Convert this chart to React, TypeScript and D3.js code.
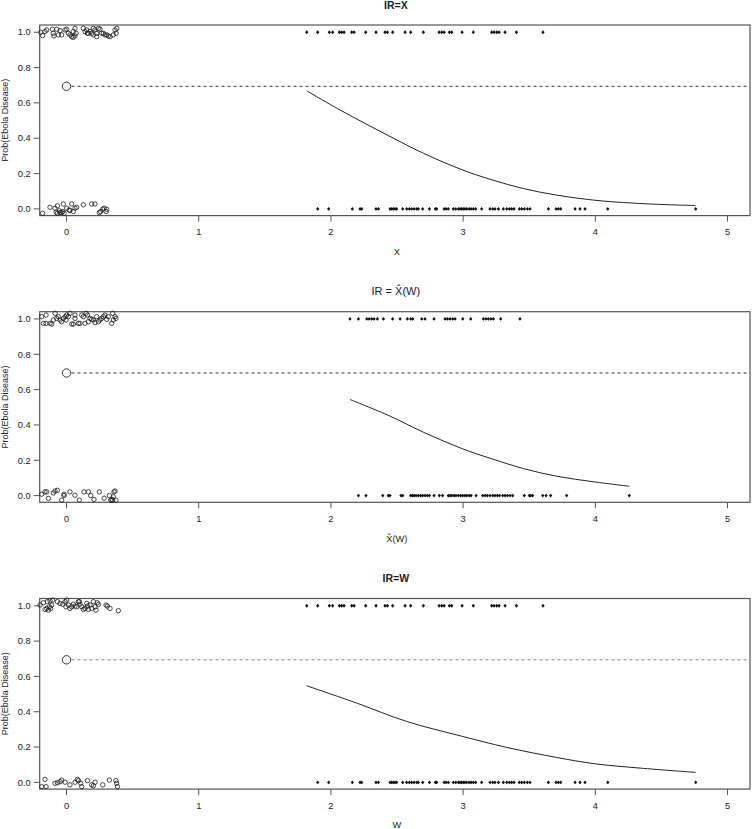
import React from "react";
import * as d3 from "d3";

// ---------- data ----------
const X_TICKS = [0, 1, 2, 3, 4, 5];
const Y_TICKS = [0, 0.2, 0.4, 0.6, 0.8, 1.0];
const Y_TICK_LABELS = ["0.0", "0.2", "0.4", "0.6", "0.8", "1.0"];
const REF_POINT: [number, number] = [0, 0.694];

// diamonds for IR=X and IR=W (same observed values)
const obsTop = [1.817, 1.9, 1.988, 2.013, 2.064, 2.081, 2.099, 2.157, 2.175, 2.263, 2.341, 2.409, 2.427, 2.467, 2.561, 2.603, 2.699, 2.818, 2.838, 2.856, 2.896, 2.914, 2.992, 3.077, 3.216, 3.234, 3.254, 3.272, 3.317, 3.403, 3.604];
const obsBottom = [1.9, 1.983, 2.162, 2.22, 2.233, 2.341, 2.359, 2.447, 2.46, 2.472, 2.485, 2.497, 2.543, 2.573, 2.593, 2.611, 2.629, 2.649, 2.661, 2.694, 2.745, 2.79, 2.8, 2.856, 2.871, 2.888, 2.926, 2.944, 2.964, 2.977, 2.989, 3.002, 3.014, 3.027, 3.045, 3.06, 3.077, 3.095, 3.14, 3.203, 3.224, 3.241, 3.267, 3.304, 3.33, 3.35, 3.367, 3.385, 3.425, 3.443, 3.463, 3.486, 3.506, 3.645, 3.703, 3.72, 3.738, 3.847, 3.884, 3.922, 4.094, 4.759];

// diamonds for IR = X^(W)
const hatTop = [2.144, 2.208, 2.271, 2.288, 2.308, 2.326, 2.351, 2.397, 2.467, 2.523, 2.578, 2.603, 2.619, 2.687, 2.712, 2.78, 2.863, 2.881, 2.901, 2.921, 2.939, 2.997, 3.057, 3.153, 3.173, 3.191, 3.211, 3.229, 3.284, 3.43];
const hatBottom = [2.208, 2.265, 2.392, 2.434, 2.447, 2.53, 2.543, 2.603, 2.616, 2.629, 2.644, 2.661, 2.679, 2.694, 2.712, 2.729, 2.745, 2.78, 2.82, 2.845, 2.888, 2.901, 2.914, 2.931, 2.946, 2.964, 2.982, 2.997, 3.014, 3.027, 3.045, 3.06, 3.098, 3.148, 3.166, 3.183, 3.203, 3.224, 3.241, 3.259, 3.274, 3.299, 3.317, 3.335, 3.355, 3.375, 3.463, 3.501, 3.511, 3.526, 3.602, 3.627, 3.662, 3.783, 4.257];

// jittered open circles near 0
const circlesX: [number, number][] = [
  [-0.195, 1.0], [-0.181, 0.981], [-0.163, 1.004], [-0.15, 1.013], [-0.107, 1.017], [-0.1, 0.994], [-0.095, 0.979], [-0.074, 1.017], [-0.062, 0.985], [-0.049, 1.009], [-0.037, 0.985], [-0.011, 1.013], [0.001, 1.017], [0.014, 0.994], [0.026, 0.985], [0.039, 0.975], [0.051, 0.971], [0.064, 0.979], [0.072, 0.994], [0.064, 1.022], [0.127, 1.022], [0.14, 1.004], [0.152, 1.013], [0.158, 0.994], [0.178, 1.004], [0.203, 1.022], [0.215, 1.013], [0.228, 0.994], [0.241, 1.022], [0.253, 1.017], [0.266, 0.994], [0.278, 0.994], [0.291, 0.985], [0.304, 0.985], [0.316, 0.979], [0.329, 0.975], [0.354, 0.985], [0.367, 1.013], [0.38, 1.022], [0.375, 0.994], [0.19, 0.994], [0.165, 0.994], [0.203, 0.985], [0.228, 0.975], [0.051, 1.004],
  [-0.181, -0.025], [-0.125, 0.009], [-0.087, 0.004], [-0.079, -0.019], [-0.069, -0.025], [-0.054, -0.011], [-0.037, -0.021], [-0.024, 0.028], [-0.019, -0.025], [0.001, 0.004], [0.019, -0.006], [0.026, -0.009], [0.039, 0.028], [0.051, -0.015], [0.064, 0.004], [0.077, 0.009], [0.127, 0.023], [0.19, 0.028], [0.215, 0.028], [0.248, -0.021], [0.258, -0.015], [0.274, -0.002], [0.284, 0.004], [0.299, -0.015], [0.304, -0.002], [-0.069, 0.017], [-0.049, -0.021], [-0.029, -0.015],
];
const circlesHat: [number, number][] = [
  [-0.188, 1.013], [-0.175, 0.975], [-0.155, 0.975], [-0.155, 1.022], [-0.125, 0.975], [-0.112, 0.971], [-0.1, 0.994], [-0.087, 1.032], [-0.074, 1.003], [-0.062, 1.013], [-0.049, 0.994], [-0.037, 0.984], [-0.024, 1.003], [-0.011, 1.013], [-0.004, 0.994], [0.001, 1.022], [0.014, 1.013], [0.026, 1.032], [0.039, 0.971], [0.052, 0.971], [0.064, 1.003], [0.064, 1.022], [0.09, 0.975], [0.102, 0.975], [0.115, 1.022], [0.127, 1.013], [0.14, 0.975], [0.148, 1.032], [0.158, 1.022], [0.165, 0.984], [0.178, 1.003], [0.19, 0.998], [0.203, 0.994], [0.216, 0.979], [0.228, 1.013], [0.241, 0.984], [0.253, 0.994], [0.266, 1.003], [0.279, 1.013], [0.291, 1.022], [0.304, 0.998], [0.316, 1.013], [0.342, 0.975], [0.349, 1.032], [0.354, 0.994], [0.367, 1.013], [0.374, 1.003],
  [-0.188, 0.008], [-0.163, 0.021], [-0.15, 0.021], [-0.137, -0.016], [-0.1, 0.015], [-0.087, 0.026], [-0.069, 0.03], [-0.037, -0.026], [-0.019, 0.008], [-0.019, 0.0], [0.026, 0.021], [0.064, 0.002], [0.097, -0.026], [0.132, 0.021], [0.165, 0.021], [0.183, 0.0], [0.208, -0.022], [0.248, 0.021], [0.284, -0.015], [0.324, 0.0], [0.334, -0.026], [0.342, -0.022], [0.349, -0.026], [0.359, 0.021], [0.367, 0.026], [0.374, -0.026], [0.354, -0.007],
];
const circlesW: [number, number][] = [
  [-0.2, 1.004], [-0.175, 1.017], [-0.163, 0.979], [-0.15, 0.985], [-0.145, 1.023], [-0.137, 0.975], [-0.13, 0.994], [-0.125, 1.028], [-0.12, 0.985], [-0.112, 1.004], [-0.105, 1.032], [-0.069, 1.023], [-0.049, 1.013], [-0.029, 1.009], [-0.011, 1.023], [-0.004, 0.994], [0.001, 1.032], [0.014, 1.004], [0.026, 0.985], [0.039, 0.994], [0.052, 1.009], [0.064, 0.998], [0.077, 0.994], [0.09, 1.023], [0.097, 1.023], [0.102, 1.009], [0.115, 0.994], [0.127, 0.979], [0.14, 0.985], [0.153, 1.013], [0.158, 0.998], [0.165, 0.979], [0.178, 1.004], [0.19, 0.985], [0.203, 1.023], [0.216, 0.994], [0.223, 0.975], [0.233, 1.017], [0.241, 1.007], [0.299, 1.004], [0.309, 0.998], [0.329, 0.985], [0.392, 0.972],
  [-0.188, -0.024], [-0.163, 0.017], [-0.155, -0.024], [-0.087, -0.005], [-0.069, -0.002], [-0.049, 0.004], [-0.037, 0.013], [-0.011, 0.001], [0.026, -0.014], [0.064, 0.001], [0.082, 0.017], [0.09, 0.01], [0.107, -0.005], [0.115, -0.024], [0.158, 0.01], [0.19, -0.014], [0.203, -0.019], [0.216, 0.001], [0.274, -0.014], [0.324, 0.013], [0.374, 0.01], [0.379, -0.005], [0.385, -0.024],
];

// fitted curves
const curveX: [number, number][] = [[1.817, 0.668], [2.069, 0.56], [2.447, 0.41], [2.699, 0.315], [2.997, 0.22], [3.203, 0.168], [3.456, 0.115], [3.708, 0.078], [3.995, 0.049], [4.212, 0.036], [4.464, 0.026], [4.759, 0.019]];
const curveHat: [number, number][] = [[2.144, 0.544], [2.447, 0.45], [2.699, 0.359], [2.997, 0.2645], [3.203, 0.2116], [3.456, 0.153], [3.708, 0.1095], [3.995, 0.0773], [4.257, 0.0528]];
const curveW: [number, number][] = [[1.817, 0.547], [2.195, 0.449], [2.573, 0.345], [2.997, 0.26], [3.33, 0.198], [3.708, 0.141], [3.995, 0.1055], [4.338, 0.081], [4.759, 0.0565]];

const PANELS = [
  { title: "IR=X", bold: true, xlab: "X", circles: circlesX, top: obsTop, bottom: obsBottom, curve: curveX, dash: "#333" },
  { title: "IR = X\u0302(W)", bold: false, xlab: "X\u0302(W)", circles: circlesHat, top: hatTop, bottom: hatBottom, curve: curveHat, dash: "#333" },
  { title: "IR=W", bold: true, xlab: "W", circles: circlesW, top: obsTop, bottom: obsBottom, curve: curveW, dash: "#888" },
];

// ---------- layout ----------
const W = 754;
const H = 829;
const LEFT = 39.7;
const RIGHT = 750;
const PANEL_TOPS = [25, 311.7, 598.5];
const PANEL_H = 190.6;
const FONT = "'Liberation Sans', Arial, Helvetica, sans-serif";
const AXIS_COLOR = "#555";
const TEXT_COLOR = "#222";

const diamond = {
  draw(ctx: any, size: number) {
    const r = Math.sqrt(size / 2);
    ctx.moveTo(0, -r * 1.15);
    ctx.lineTo(r, 0);
    ctx.lineTo(0, r * 1.15);
    ctx.lineTo(-r, 0);
    ctx.closePath();
  },
};
const diamondPath = d3.symbol().type(diamond as any).size(5.5)() as string;

const x = d3.scaleLinear().domain([-0.203, 5.17]).range([LEFT, RIGHT]);

function Panel({ p, top }: { p: (typeof PANELS)[number]; top: number }) {
  const bottom = top + PANEL_H;
  const y = d3.scaleLinear().domain([-0.038, 1.041]).range([bottom, top]);
  const line = d3
    .line<[number, number]>()
    .x((d) => x(d[0]))
    .y((d) => y(d[1]))
    .curve(d3.curveCatmullRom.alpha(0.5));
  const midY = (top + bottom) / 2;
  const cx = (LEFT + RIGHT) / 2;
  return (
    <g>
      {/* title */}
      <text x={cx + 1} y={top - 16.5} textAnchor="middle" fontFamily={FONT} fontSize={p.bold ? 10.5 : 11} fontWeight={p.bold ? "bold" : "normal"} fill={TEXT_COLOR}>
        {p.title}
      </text>
      {/* y axis label */}
      <text transform={`translate(${7.5},${midY}) rotate(-90)`} textAnchor="middle" fontFamily={FONT} fontSize={9} fill={TEXT_COLOR}>
        Prob(Ebola Disease)
      </text>
      {/* y ticks */}
      {Y_TICKS.map((t, i) => (
        <g key={"yt" + i}>
          <line x1={LEFT - 6} x2={LEFT} y1={y(t)} y2={y(t)} stroke={AXIS_COLOR} strokeWidth={1} />
          <text x={LEFT - 9} y={y(t)} dy="0.35em" textAnchor="end" fontFamily={FONT} fontSize={9.3} fill={TEXT_COLOR}>
            {Y_TICK_LABELS[i]}
          </text>
        </g>
      ))}
      {/* x ticks */}
      {X_TICKS.map((t) => (
        <g key={"xt" + t}>
          <line x1={x(t)} x2={x(t)} y1={bottom} y2={bottom + 6} stroke={AXIS_COLOR} strokeWidth={1} />
          <text x={x(t)} y={bottom + 16.5} dy="0.35em" textAnchor="middle" fontFamily={FONT} fontSize={9.3} fill={TEXT_COLOR}>
            {t}
          </text>
        </g>
      ))}
      {/* x label */}
      <text x={cx + 2} y={bottom + 36} dy="0.35em" textAnchor="middle" fontFamily={FONT} fontSize={9.3} fill={TEXT_COLOR}>
        {p.xlab}
      </text>
      {/* box */}
      <rect x={LEFT} y={top} width={RIGHT - LEFT} height={PANEL_H} fill="none" stroke={AXIS_COLOR} strokeWidth={1.2} />
      {/* threshold dashed line */}
      <line x1={x(REF_POINT[0]) + 5} x2={RIGHT} y1={y(REF_POINT[1])} y2={y(REF_POINT[1])} stroke={p.dash} strokeWidth={1} strokeDasharray="3,3" />
      <circle cx={x(REF_POINT[0])} cy={y(REF_POINT[1])} r={4.2} fill="none" stroke="#222" strokeWidth={0.9} />
      {/* open circles near zero */}
      {p.circles.map((d, i) => (
        <circle key={"c" + i} cx={x(d[0])} cy={y(d[1])} r={2.2} fill="none" stroke="#1a1a1a" strokeWidth={0.8} />
      ))}
      {/* diamonds */}
      {p.top.map((v, i) => (
        <path key={"dt" + i} d={diamondPath} transform={`translate(${x(v)},${y(1)})`} fill="#111" />
      ))}
      {p.bottom.map((v, i) => (
        <path key={"db" + i} d={diamondPath} transform={`translate(${x(v)},${y(0)})`} fill="#111" />
      ))}
      {/* fitted curve */}
      <path d={line(p.curve) as string} fill="none" stroke="#222" strokeWidth={1} />
    </g>
  );
}

export default function App() {
  return (
    <svg width={W} height={H} style={{ position: "absolute", left: 0, top: 0, background: "#fff" }}>
      <rect x={0} y={0} width={W} height={H} fill="#fff" />
      {PANELS.map((p, i) => (
        <Panel key={i} p={p} top={PANEL_TOPS[i]} />
      ))}
    </svg>
  );
}
